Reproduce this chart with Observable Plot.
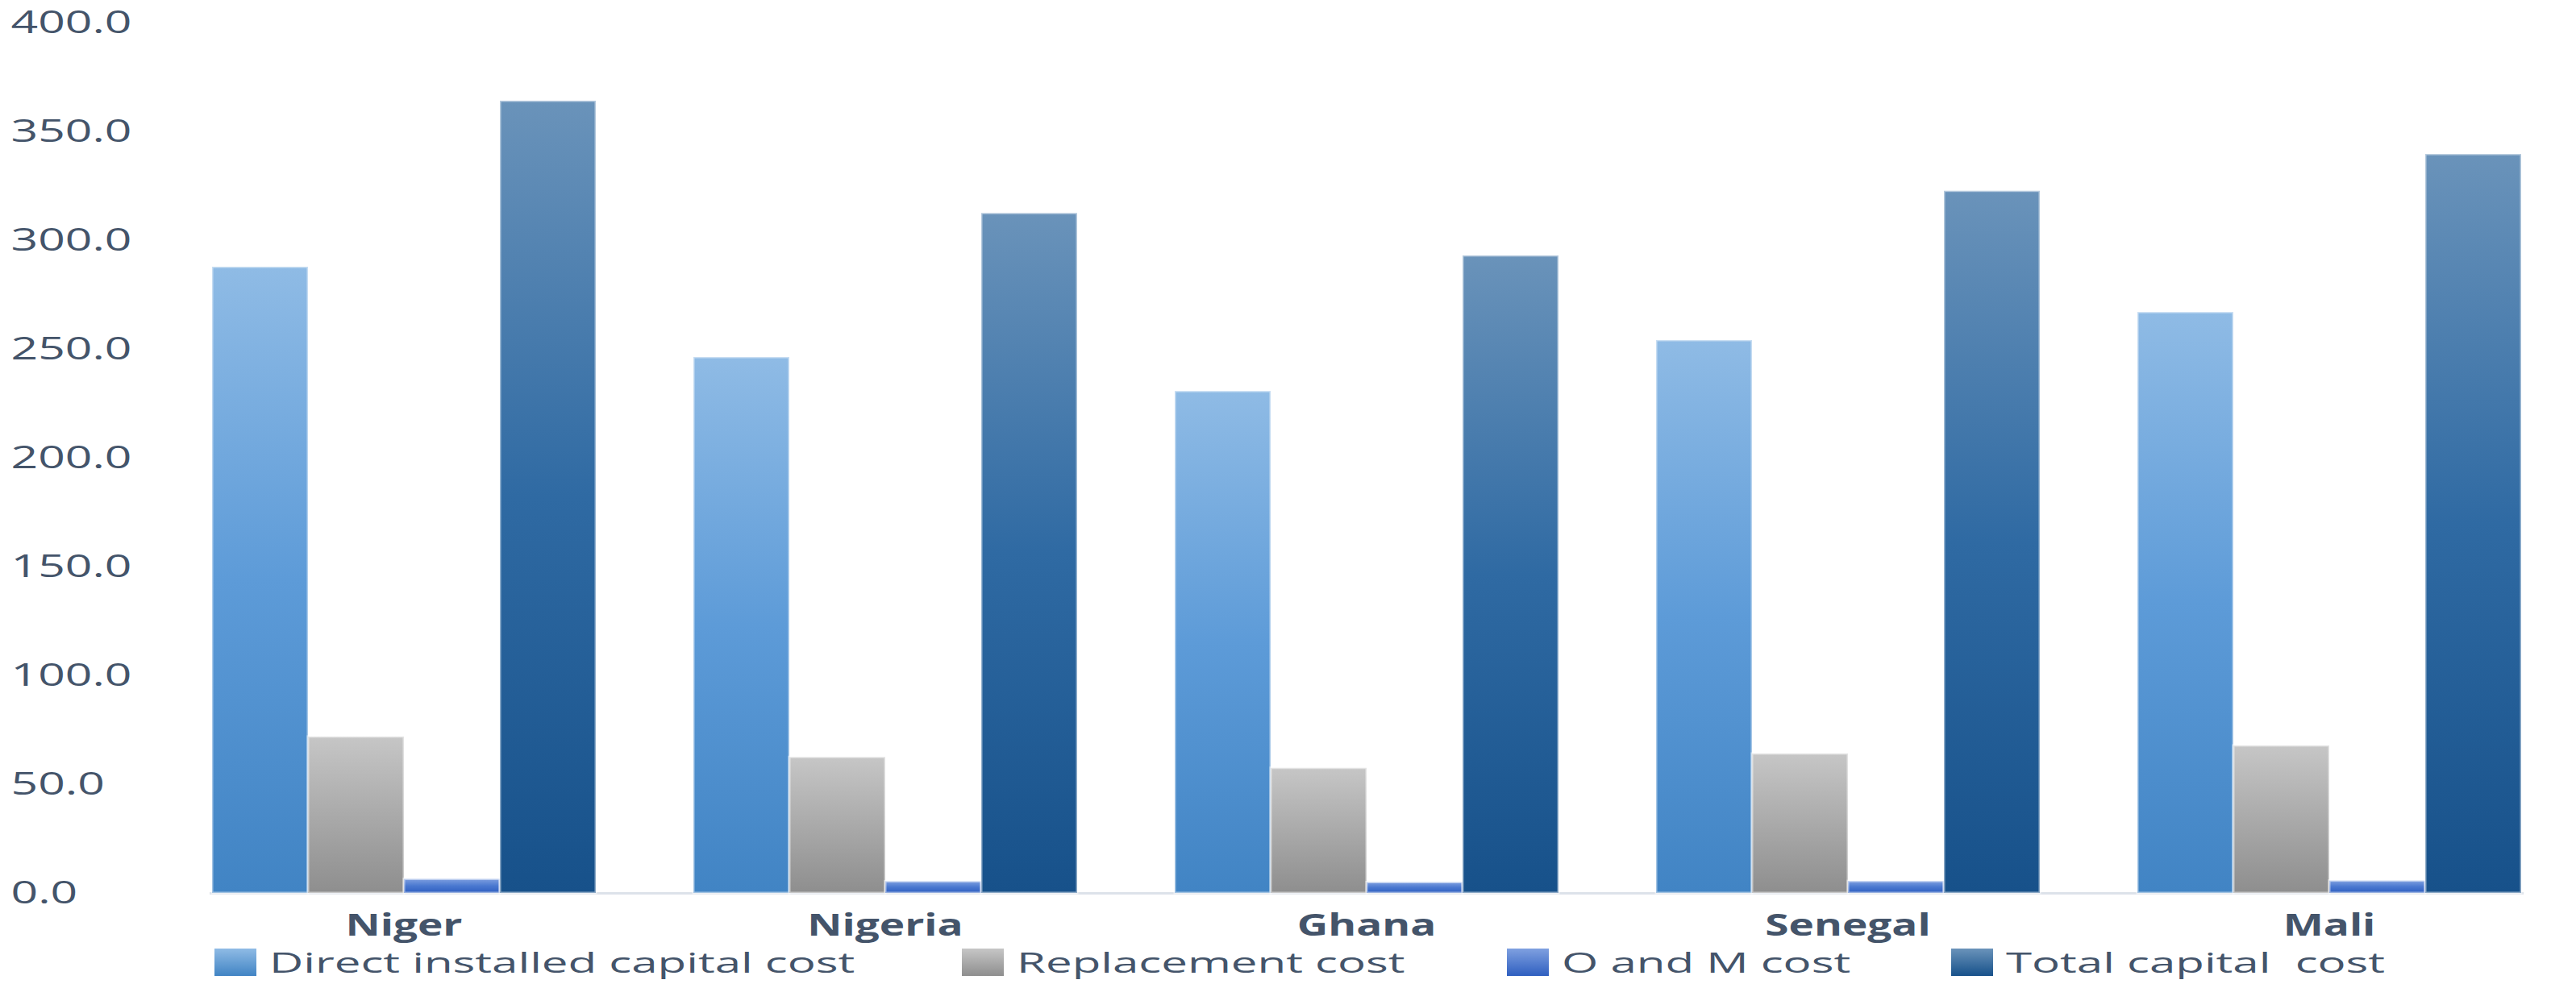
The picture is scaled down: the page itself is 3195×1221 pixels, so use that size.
<!DOCTYPE html>
<html><head><meta charset="utf-8">
<script src="https://cdn.jsdelivr.net/npm/d3@7"></script>
<script src="https://cdn.jsdelivr.net/npm/@observablehq/plot@0.6"></script>
<style>
body{margin:0;background:#fff;}
#wrap{position:relative;width:3195px;height:1221px;overflow:hidden;font-family:"Open Sans",sans-serif;}
#legend{position:absolute;left:0;top:1172px;width:3195px;height:49px;}
.item{position:absolute;top:0;height:49px;}
.sw{position:absolute;left:0;top:5px;width:52px;height:34px;}
.lbl{position:absolute;left:68px;top:8px;font-size:35px;line-height:28px;color:#44546a;white-space:pre;transform-origin:left top;}
</style></head>
<body><div id="wrap"><div id="chart"></div><div id="legend"></div></div>
<script>
const countries = ["Niger", "Nigeria", "Ghana", "Senegal", "Mali"];
const seriesNames = ["Direct installed capital cost", "Replacement cost", "O and M cost", "Total capital  cost"];
const directInstalled = [287.8, 246.3, 230.7, 254.1, 267.0];
const replacement = [71.9, 62.5, 57.5, 64.1, 67.8];
const oAndM = [6.5, 5.4, 5.0, 5.5, 5.7];
const totalCapital = [364.1, 312.5, 293.0, 322.7, 339.6];
const yTicks = [0, 50, 100, 150, 200, 250, 300, 350, 400];

const gradients = [
  {id: "gDIC", top: "#8fbbe5", mid: "#5d9bd8", bottom: "#4184c4"},
  {id: "gRep", top: "#c6c6c6", mid: "#aaaaaa", bottom: "#8e8e8e"},
  {id: "gOM", top: "#7fa0e0", mid: "#4a78d0", bottom: "#2f5fc0"},
  {id: "gTot", top: "#6a93ba", mid: "#2f6aa3", bottom: "#17518a"}
];
const legendLeft = [266, 1193, 1869, 2420];

const seriesValues = [directInstalled, replacement, oAndM, totalCapital];
const table = countries.flatMap((c, i) => seriesNames.map((s, j) => ({country: c, series: s, value: seriesValues[j][i]})));

const svg = Plot.plot({
  width: 3195, height: 1172,
  marginTop: 28, marginBottom: 64, marginLeft: 202, marginRight: 8,
  style: {fontFamily: "'Open Sans', sans-serif", overflow: "visible", background: "transparent"},
  fx: {domain: countries, paddingInner: 0.198, paddingOuter: 0.099, label: null},
  x: {domain: seriesNames, padding: 0, axis: null},
  y: {domain: [0, 400], axis: null},
  color: {domain: seriesNames, range: gradients.map(g => `url(#${g.id})`)},
  marks: [
    Plot.frame({anchor: "bottom", facet: "super", stroke: "#dde2ea", strokeWidth: 3}),
    Plot.barY(table, {fx: "country", x: "series", y: "value", fill: "series", stroke: "#ffffff", strokeOpacity: 0.5, strokeWidth: 3}),
    Plot.axisY(yTicks, {tickFormat: d => d.toFixed(1), tickSize: 0, tickPadding: 0, textAnchor: "start", dx: -248, fontSize: 39, color: "#44546a", label: null}),
    Plot.axisFx({anchor: "bottom", tickSize: 0, tickPadding: 26, fontSize: 37, fontWeight: "bold", color: "#44546a", label: null})
  ]
});

const defs = d3.select(svg).insert("defs", ":first-child");
gradients.forEach(g => {
  const lg = defs.append("linearGradient").attr("id", g.id).attr("x1", 0).attr("y1", 0).attr("x2", 0).attr("y2", 1);
  lg.append("stop").attr("offset", "0%").attr("stop-color", g.top);
  lg.append("stop").attr("offset", "50%").attr("stop-color", g.mid);
  lg.append("stop").attr("offset", "100%").attr("stop-color", g.bottom);
});

document.getElementById("chart").appendChild(svg);

// horizontally widen the text, as in the (stretched) reference
function stretch(sel, refText, refWidth) {
  const texts = Array.from(svg.querySelectorAll(sel));
  const ref = texts.find(t => t.textContent === refText) || texts[0];
  const k = refWidth / ref.getComputedTextLength();
  texts.forEach(t => {
    const L = t.getComputedTextLength();
    t.setAttribute("textLength", L * k);
    t.setAttribute("lengthAdjust", "spacingAndGlyphs");
  });
}
stretch('g[aria-label="y-axis tick label"] text', "400.0", 150);
stretch('g[aria-label="fx-axis tick label"] text', "Niger", 145);

const legend = document.getElementById("legend");
const labels = [];
seriesNames.forEach((s, i) => {
  const item = document.createElement("div");
  item.className = "item";
  item.style.left = legendLeft[i] + "px";
  const sw = document.createElement("div");
  sw.className = "sw";
  sw.style.background = `linear-gradient(to bottom, ${gradients[i].top}, ${gradients[i].bottom})`;
  const lbl = document.createElement("span");
  lbl.className = "lbl";
  lbl.textContent = s;
  item.appendChild(sw);
  item.appendChild(lbl);
  legend.appendChild(item);
  labels.push(lbl);
});
const kLegend = 727 / labels[0].offsetWidth;
labels.forEach(l => l.style.transform = `scaleX(${kLegend})`);
</script>
</body></html>
